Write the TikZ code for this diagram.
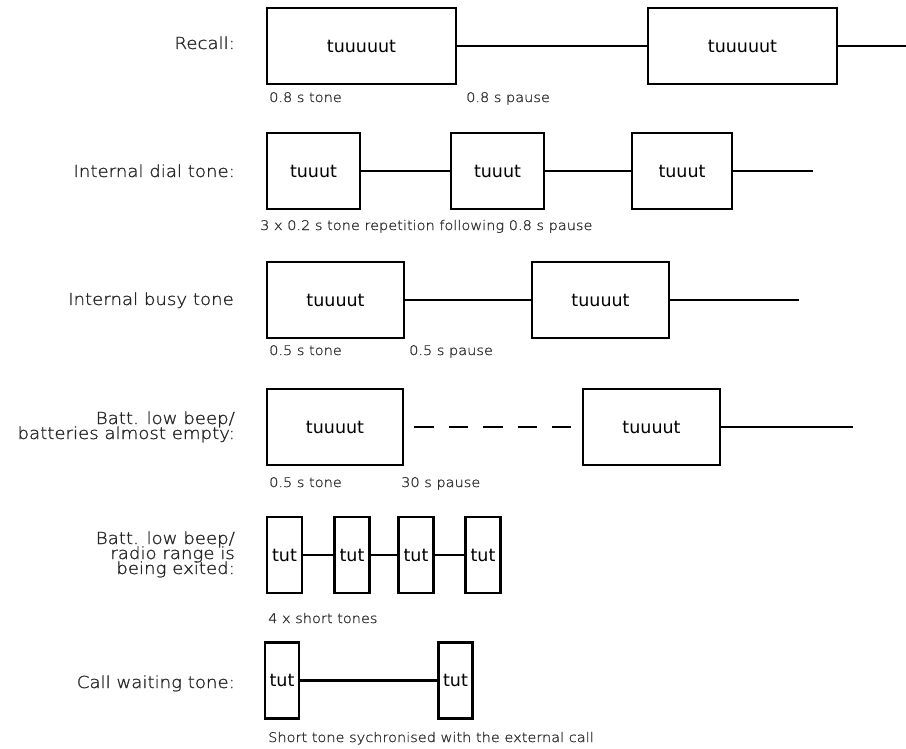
\documentclass[tikz,border=0pt]{standalone}
\usepackage{fontspec}
\setmainfont{DejaVu Sans}
\newfontfamily\thinfont[FakeStretch=1.1,FakeBold=1.2]{DejaVu Sans ExtraLight}
\lineskiplimit=-20pt

\begin{document}
\begin{tikzpicture}[x=1pt,y=-1pt,line width=2.4pt,
	tone/.style={draw,inner sep=0pt,minimum height=76pt,font=\fontsize{17.5}{20}\selectfont},
	what/.style={anchor=base east,align=right,inner sep=0pt,text=black!85,font=\thinfont\fontsize{16.5}{15}\selectfont},
	note/.style={anchor=base west,inner sep=0pt,text=black!80,font=\thinfont\fontsize{13.2}{15}\selectfont}]
			\useasboundingbox (0,0) rectangle (906,749);
			% recall
			\node[what] (lrec) at (236,49) {Recall:};
			\node[tone,minimum width=189pt] (rec1) at (361.5,46) {tuuuuut};
			\node[tone,minimum width=189pt] (rec2) at (742.5,46) {tuuuuut};
			\coordinate (rece) at (906,46);
			\draw (rec1) -- (rec2) (rec2) -- (rece);
			\node[note] (rect) at (268,102) {0.8 s tone};
			\node[note] (recp) at (465,102) {0.8 s pause};
			% internal dial tone
			\node[what] (ldia) at (236,177) {Internal dial tone:};
			\node[tone,minimum width=93pt] (dia1) at (313.5,171) {tuuut};
			\node[tone,minimum width=93pt] (dia2) at (497.5,171) {tuuut};
			\node[tone,minimum width=100pt] (dia3) at (682,171) {tuuut};
			\coordinate (diae) at (813,171);
			\draw (dia1) -- (dia2) (dia2) -- (dia3) (dia3) -- (diae);
			\node[note] (diat) at (259,230) {3 x 0.2 s tone repetition following 0.8 s pause};
			% internal busy tone
			\node[what] (lbus) at (235,305) {Internal busy tone};
			\node[tone,minimum width=137pt] (bus1) at (335.5,300) {tuuuut};
			\node[tone,minimum width=137pt] (bus2) at (600.5,300) {tuuuut};
			\coordinate (buse) at (799,300);
			\draw (bus1) -- (bus2) (bus2) -- (buse);
			\node[note] (bust) at (268,355) {0.5 s tone};
			\node[note] (busp) at (408,355) {0.5 s pause};
			% batteries almost empty
			\node[what] (lbat) at (236,439) {Batt. low beep/\\batteries almost empty:};
			\node[tone,minimum width=136pt] (bat1) at (335,427) {tuuuut};
			\node[tone,minimum width=137pt] (bat2) at (651.5,427) {tuuuut};
			\coordinate (bate) at (853,427);
			\draw[dash pattern=on 19.5pt off 15pt,shorten <=10pt,shorten >=11pt] (bat1) -- (bat2);
			\draw (bat2) -- (bate);
			\node[note] (batt) at (268,487) {0.5 s tone};
			\node[note] (batp) at (400,487) {30 s pause};
			% radio range
			\node[what] (lrad) at (236,574) {Batt. low beep/\\radio range is\\being exited:};
			\foreach \x [count=\i] in {284.5,352,416,483}
				\node[tone,minimum width=35pt] (rad\i) at (\x,555) {tut};
			\foreach \i/\j in {1/2,2/3,3/4}
				\draw (rad\i) -- (rad\j);
			\node[note] (radt) at (267,623) {4 x short tones};
			% call waiting
			\node[what] (lcal) at (236,688) {Call waiting tone:};
			\node[tone,minimum width=34pt] (cal1) at (282,680.5) {tut};
			\node[tone,minimum width=34pt] (cal2) at (455.5,680.5) {tut};
			\draw (cal1) -- (cal2);
			\node[note] (calt) at (267,742) {Short tone sychronised with the external call};
\end{tikzpicture}
\end{document}
